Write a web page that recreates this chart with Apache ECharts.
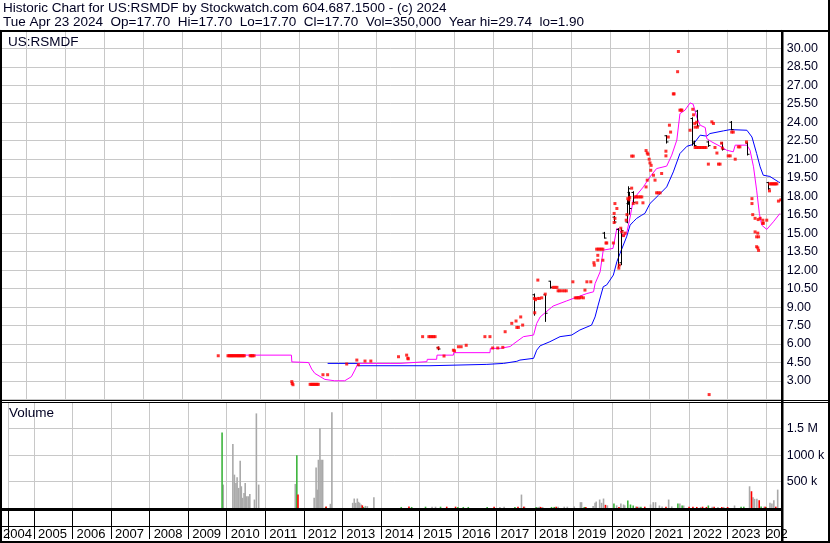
<!DOCTYPE html>
<html><head><meta charset="utf-8">
<script src="https://cdn.jsdelivr.net/npm/echarts@6/dist/echarts.min.js"></script>
<style>html,body{margin:0;padding:0;background:#fff}#c{width:830px;height:543px}</style>
</head><body><div id="c"></div>
<script>
// ---------- DATA ----------
const titleLine1 = 'Historic Chart for US:RSMDF by Stockwatch.com 604.687.1500 - (c) 2024';
const titleLine2 = 'Tue Apr 23 2024  Op=17.70  Hi=17.70  Lo=17.70  Cl=17.70  Vol=350,000  Year hi=29.74  lo=1.90';
const symbolLabel = 'US:RSMDF';
const volumeLabel = 'Volume';
const yearLabels = ['2004','2005','2006','2007','2008','2009','2010','2011','2012','2013','2014','2015','2016','2017','2018','2019','2020','2021','2022','2023','2024'];
const priceTickLabels = ['3.00','4.50','6.00','7.50','9.00','10.50','12.00','13.50','15.00','16.50','18.00','19.50','21.00','22.50','24.00','25.50','27.00','28.50','30.00'];
const volTickValues = [500000, 1000000, 1500000];
const volTickText = ['500 k', '1000 k', '1.5 M'];

// daily closes (decimal year, price)
const closeDots = [
[2009.93,5.05],[2010.18,5.05],[2010.21,5.05],[2010.24,5.05],[2010.27,5.05],[2010.30,5.05],[2010.33,5.05],[2010.36,5.05],[2010.39,5.05],[2010.42,5.05],[2010.45,5.05],[2010.48,5.05],[2010.51,5.05],[2010.54,5.05],[2010.57,5.05],[2010.60,5.05],
[2010.75,5.05],[2010.78,5.05],[2010.81,5.05],[2010.85,5.05],
[2011.82,2.95],[2011.83,2.80],[2011.85,2.70],
[2012.29,2.73],[2012.32,2.73],[2012.35,2.73],[2012.38,2.73],[2012.41,2.73],[2012.44,2.73],[2012.47,2.73],[2012.50,2.73],
[2012.62,3.51],[2012.74,3.51],
[2013.23,4.38],[2013.49,4.70],[2013.53,4.32],[2013.70,4.62],[2013.85,4.62],
[2014.56,4.97],[2014.77,5.10],[2014.80,4.85],[2014.81,4.80],
[2015.18,6.60],[2015.34,6.60],[2015.38,6.60],[2015.42,6.60],[2015.46,6.60],[2015.50,6.60],
[2015.58,5.68],[2015.73,5.03],[2015.97,5.50],[2016.00,5.45],
[2016.10,5.78],[2016.17,5.78],[2016.30,5.90],
[2016.78,6.60],[2016.91,6.60],
[2016.98,5.68],[2017.11,5.68],[2017.24,5.73],
[2017.30,7.00],[2017.47,7.68],[2017.58,7.87],[2017.70,8.20],[2017.75,7.54],[2017.64,7.35],[2017.60,7.35],
[2018.05,9.70],[2018.08,9.60],[2018.14,9.70],[2018.18,9.70],[2018.24,9.75],[2018.06,8.54],
[2018.14,11.19],[2018.33,10.05],
[2018.53,10.60],[2018.58,10.60],[2018.63,10.60],
[2018.66,10.32],[2018.70,10.32],[2018.76,10.32],[2018.82,10.32],[2018.87,10.32],
[2019.04,11.05],
[2019.10,9.75],[2019.14,9.75],[2019.18,9.75],[2019.22,9.75],[2019.26,9.80],[2019.31,9.75],
[2019.35,10.38],[2019.40,11.05],[2019.50,11.05],
[2019.58,12.60],[2019.59,12.40],
[2019.65,13.70],[2019.69,13.70],[2019.73,13.70],[2019.77,13.70],[2019.81,13.70],
[2019.68,13.20],[2019.68,12.80],[2019.81,12.80],
[2019.89,14.20],[2019.91,14.20],
[2020.08,14.20],[2020.10,15.86],[2020.12,16.20],[2020.10,16.60],[2020.17,17.00],[2020.12,17.40],
[2020.23,12.40],[2020.22,12.16],
[2020.27,15.40],[2020.30,15.10],[2020.34,14.80],[2020.38,15.00],
[2020.41,16.05],[2020.43,16.50],[2020.45,17.80],
[2020.48,17.70],[2020.50,17.90],[2020.55,18.65],[2020.59,17.40],
[2020.64,17.94],[2020.68,17.94],[2020.72,17.94],[2020.77,17.94],[2020.81,17.94],
[2020.68,17.46],[2020.84,17.46],
[2020.55,21.25],[2020.59,21.25],
[2020.92,21.70],[2020.95,21.50],[2020.97,21.40],[2021.00,21.00],[2021.02,20.70],[2021.05,20.50],[2021.04,20.10],
[2020.92,18.75],[2020.95,19.30],
[2021.11,19.70],[2021.15,19.30],
[2021.19,18.27],[2021.23,18.27],[2021.28,18.27],
[2021.32,19.84],
[2021.43,21.65],[2021.43,21.27],[2021.49,22.80],
[2021.52,23.76],[2021.55,23.20],
[2021.62,26.30],[2021.64,26.30],
[2021.73,28.10],[2021.75,29.74],
[2021.79,24.98],[2021.82,24.98],[2021.84,24.98],
[2022.05,23.35],
[2022.12,25.05],[2022.14,24.60],[2022.17,23.90],[2022.18,23.60],
[2022.22,24.00],[2022.24,23.60],
[2022.18,21.95],[2022.22,21.95],[2022.26,21.95],[2022.30,21.95],[2022.34,21.95],[2022.38,21.95],[2022.42,21.95],[2022.46,21.95],
[2022.52,20.60],[2022.54,1.90],
[2022.61,24.03],[2022.65,23.90],
[2022.69,21.95],[2022.74,21.50],
[2022.78,20.60],[2022.82,20.60],
[2022.86,22.30],[2022.88,21.90],
[2023.03,21.27],[2023.08,21.27],[2023.21,21.00],
[2023.12,23.20],[2023.16,23.20],
[2023.29,22.00],[2023.33,22.00],[2023.50,22.40],
[2023.64,17.80],[2023.64,17.40],[2023.66,16.50],
[2023.72,16.20],[2023.80,16.10],[2023.85,16.20],[2023.92,16.05],[2024.02,16.05],
[2023.72,15.10],[2023.79,15.00],[2023.76,14.70],[2023.81,14.70],
[2023.76,13.90],[2023.79,13.80],[2023.81,13.60],
[2023.92,15.80],[2023.93,15.80],
[2024.09,18.43],
[2024.10,19.00],[2024.13,19.00],[2024.16,19.00],[2024.19,19.00],[2024.22,19.00],[2024.25,19.00],[2024.28,19.00],
[2024.32,17.60],[2024.38,17.70]
];

// ranged days (decimal year, open, high, low, close)
const ohlcBars = [
[2015.58,5.70,5.80,5.50,5.60],
[2018.05,10.00,10.10,8.30,9.70],
[2018.33,10.00,10.00,7.80,8.50],
[2018.44,11.10,11.13,10.50,10.60],
[2019.85,15.00,15.10,14.56,14.60],
[2020.10,16.30,16.40,15.80,15.90],
[2020.21,15.30,15.40,12.20,12.40],
[2020.27,12.60,15.40,12.40,15.20],
[2020.44,15.90,17.70,15.80,17.60],
[2020.46,17.40,18.80,17.30,18.60],
[2020.49,18.30,18.35,16.50,17.00],
[2020.59,18.30,18.40,17.40,17.50],
[2021.43,22.90,22.95,22.27,22.40],
[2022.09,24.30,24.40,22.10,22.30],
[2022.15,22.40,22.50,22.00,22.10],
[2022.24,24.90,25.00,23.60,23.70],
[2022.52,22.40,22.50,22.00,22.10],
[2022.86,22.30,22.40,21.70,21.80],
[2023.10,24.00,24.10,23.35,23.40],
[2023.51,22.30,22.40,21.30,21.40],
[2024.06,19.10,19.16,18.49,18.60]
];

// short moving average (magenta)
const maShort = [
[2010.18,5.10],[2011.81,5.10],[2011.82,4.55],[2012.25,4.50],[2012.33,3.97],[2012.41,3.62],[2012.67,3.13],[2012.92,3.02],[2013.18,3.02],[2013.35,3.35],[2013.44,3.89],[2013.52,4.43],
[2014.60,4.43],[2014.61,4.57],[2015.29,4.57],[2015.30,4.76],[2015.54,4.76],[2015.55,5.10],[2015.97,5.10],[2015.98,5.30],[2016.91,5.30],[2016.92,5.65],[2017.17,5.65],[2017.43,5.80],[2017.51,6.00],[2017.77,6.60],[2018.03,6.73],
[2018.11,7.67],[2018.20,8.20],[2018.53,9.08],[2018.88,9.50],[2019.05,9.70],[2019.40,10.10],[2019.57,10.24],[2019.61,10.90],[2019.74,11.86],[2019.82,13.62],[2020.07,13.76],
[2020.17,15.38],[2020.25,15.20],[2020.34,14.70],[2020.42,14.97],[2020.51,16.30],[2020.59,17.68],[2020.64,17.94],[2020.85,18.75],[2021.02,19.56],[2021.19,20.24],[2021.45,20.44],
[2021.58,21.33],[2021.71,22.55],[2021.79,24.70],[2021.92,24.98],[2022.05,25.57],[2022.13,25.46],[2022.22,24.43],[2022.31,23.76],[2022.44,23.57],[2022.48,22.67],[2022.61,22.40],
[2022.82,22.05],[2022.99,21.73],[2023.16,21.60],[2023.21,22.14],[2023.51,22.14],[2023.59,21.73],[2023.68,20.38],[2023.76,18.49],[2023.83,16.60],[2023.89,15.65],[2024.02,15.30],[2024.19,15.92],[2024.36,16.60]
];

// long moving average (blue)
const maLong = [
[2012.74,4.43],[2013.51,4.43],[2013.52,4.24],[2015.37,4.24],[2015.38,4.35],[2016.83,4.35],[2016.84,4.43],[2017.26,4.43],[2017.27,4.52],[2017.60,4.60],[2017.68,4.70],[2018.03,4.84],
[2018.11,5.50],[2018.20,5.86],[2018.45,6.19],[2018.71,6.60],[2019.01,6.73],[2019.22,7.14],[2019.52,7.54],[2019.61,8.20],[2019.69,9.16],[2019.82,10.65],[2019.91,10.80],[2020.08,11.60],
[2020.17,12.68],[2020.25,13.35],[2020.42,14.70],[2020.51,15.65],[2020.59,15.92],[2020.68,16.20],[2020.81,16.46],[2020.89,16.60],[2021.02,17.40],[2021.24,18.08],[2021.45,18.75],
[2021.62,19.97],[2021.79,21.46],[2021.97,22.05],[2022.13,22.20],[2022.31,22.95],[2022.48,22.87],[2022.56,23.08],[2022.91,23.30],[2023.08,23.40],[2023.51,23.35],[2023.64,22.80],
[2023.76,21.46],[2023.85,20.38],[2023.93,19.70],[2024.10,19.60],[2024.32,19.16],[2024.36,19.10]
];

// volume (decimal year, shares)
const volGray = [
[2009.91,443000],[2010.16,1210000],[2010.20,631000],[2010.24,474000],[2010.27,580000],[2010.31,380000],[2010.35,894000],[2010.38,411000],[2010.41,192000],[2010.45,286000],[2010.48,474000],[2010.52,222000],[2010.56,222000],[2010.60,267000],
[2010.72,160000],[2010.77,1790000],[2010.83,443000],[2011.78,455000],
[2012.27,192000],[2012.32,768000],[2012.35,348000],[2012.38,913000],[2012.42,1510000],[2012.45,913000],[2012.49,913000],[2012.69,79000],[2012.73,1810000],
[2013.27,98000],[2013.31,179000],[2013.35,98000],[2013.39,179000],[2013.42,117000],[2013.45,98000],[2013.49,66000],[2013.60,40000],[2013.65,35000],[2013.82,203000],
[2015.33,25000],[2015.42,25000],[2017.09,20000],[2017.20,25000],[2017.65,254000],[2017.73,25000],[2018.08,20000],[2018.12,25000],[2018.20,20000],[2018.60,25000],[2018.76,25000],[2018.84,25000],
[2019.02,30000],[2019.18,110000],[2019.21,110000],[2019.51,40000],[2019.56,98000],[2019.59,122000],[2019.68,160000],[2019.73,98000],[2019.78,179000],[2019.88,50000],
[2020.12,50000],[2020.23,85000],[2020.30,66000],[2020.33,50000],[2020.62,30000],[2020.70,25000],[2021.00,66000],[2021.07,110000],[2021.13,110000],[2021.23,47000],[2021.30,30000],
[2021.47,160000],[2021.55,30000],[2021.76,85000],[2021.86,47000],[2022.30,20000],[2022.60,25000],[2022.75,20000],[2022.90,20000],[2023.18,47000],
[2023.57,411000],[2023.66,203000],[2023.70,173000],[2023.76,173000],[2023.95,25000],[2024.10,98000],[2024.15,85000],[2024.20,147000],[2024.30,348000]
];
const volGreen = [
[2009.88,1430000],[2011.82,1000000],[2012.57,20000],[2013.55,20000],[2014.53,20000],[2014.80,20000],[2015.16,25000],[2015.55,25000],[2016.00,20000],[2016.14,20000],[2016.27,20000],
[2016.76,20000],[2017.48,20000],[2018.03,20000],[2018.43,20000],[2018.50,20000],[2019.28,20000],[2020.05,85000],[2020.41,141000],[2020.48,66000],[2020.55,47000],[2020.75,25000],
[2021.71,85000],[2021.82,47000],[2022.50,47000],[2023.35,25000],[2023.42,25000],[2023.87,30000],[2024.00,20000]
];
const volRed = [
[2011.85,254000],[2012.58,30000],[2013.52,50000],[2014.73,30000],[2015.71,25000],[2015.94,25000],[2016.94,25000],[2017.56,25000],[2017.71,25000],[2018.15,20000],[2018.55,25000],
[2019.32,20000],[2019.83,60000],[2020.18,20000],[2020.65,25000],[2020.85,25000],[2021.40,25000],[2022.00,25000],[2022.10,25000],[2022.20,20000],[2022.35,25000],[2022.45,20000],
[2022.65,25000],[2022.85,20000],[2023.00,20000],[2023.62,317000],[2023.82,147000],[2023.98,25000],[2024.25,25000]
];

// ---------- CHART ----------
const FONT = '"Liberation Sans", Arial, sans-serif';
const TXT = '#000022';
const GRID_COLOR = '#c8c8c8';
const X_MIN = 2004.324, X_MAX = 2024.404;
const chart = echarts.init(document.getElementById('c'), null, {renderer: 'canvas'});

function volRender(color) {
  return function (params, api) {
    const x = api.value(0), v = api.value(1);
    const b = api.coord([x, 0]), t = api.coord([x, v]);
    return {type: 'rect', shape: {x: b[0] - 0.8, y: t[1], width: 1.6, height: b[1] - t[1]}, style: {fill: color}};
  };
}
function volSeries(data, color) {
  return {type: 'custom', xAxisIndex: 1, yAxisIndex: 1, data: data, renderItem: volRender(color), encode: {x: 0, y: 1}, z: 3};
}
function yearFormatter(v) {
  const yr = String(Math.floor(v + 1e-6));
  const i = yearLabels.indexOf(yr);
  if (i < 0) return '';
  if (i === 0) return '{f|' + yr + '}';
  if (Math.abs(v - Math.round(v)) > 1e-6) return '';
  if (i === yearLabels.length - 1) return '{l|' + yr + '}';
  return '{n|' + yr + '}';
}

const rect = (x, y, w, h, c) => ({type: 'rect', shape: {x: x, y: y, width: w, height: h}, style: {fill: c || '#000'}, z: 100, silent: true});

const xCommon = {type: 'value', min: X_MIN, max: X_MAX, splitNumber: 20, minInterval: 1, maxInterval: 1};
const labelRich = (pad) => ({fontSize: 13, fontFamily: FONT, color: '#000', padding: [0, 0, 0, pad]});

const option = {
  animation: false,
  backgroundColor: '#fff',
  grid: [
    {left: 0, right: 48.3, top: 29.8, bottom: 143.5, show: false},
    {left: 0, right: 48.3, top: 402.3, bottom: 35, show: false}
  ],
  xAxis: [
    Object.assign({gridIndex: 0}, xCommon, {
     axisLine: {show: false}, axisTick: {show: false}, axisLabel: {show: false},
     splitLine: {show: true, lineStyle: {color: GRID_COLOR, width: 1}}}),
    Object.assign({gridIndex: 1}, xCommon, {offset: 2.5,
     axisLine: {show: false},
     axisTick: {show: true, length: 31, lineStyle: {color: '#000', width: 1}},
     axisLabel: {show: true, margin: 17, align: 'left', fontSize: 13, fontFamily: FONT, color: '#000',
       padding: [0, 0, 0, -5],
       showMinLabel: true, showMaxLabel: true, formatter: yearFormatter,
       rich: {f: labelRich(0), n: labelRich(9), l: labelRich(5)}},
     splitLine: {show: true, lineStyle: {color: GRID_COLOR, width: 1}}})
  ],
  yAxis: [
    {gridIndex: 0, type: 'value', position: 'right', min: 1.5, max: 31.5, interval: 1.5,
     axisLine: {show: false}, axisTick: {show: false},
     axisLabel: {margin: 5, fontSize: 12.5, fontFamily: FONT, color: TXT,
       formatter: function (v) { const s = v.toFixed(2); return priceTickLabels.indexOf(s) >= 0 ? s : ''; }},
     splitLine: {show: true, lineStyle: {color: GRID_COLOR, width: 1}}},
    {gridIndex: 1, type: 'value', position: 'right', min: 0, max: 2000000, interval: 500000,
     axisLine: {show: false}, axisTick: {show: false},
     axisLabel: {margin: 5, fontSize: 12.5, fontFamily: FONT, color: TXT,
       formatter: function (v) { const i = volTickValues.indexOf(v); return i >= 0 ? volTickText[i] : ''; }},
     splitLine: {show: true, lineStyle: {color: GRID_COLOR, width: 1}}}
  ],
  series: [
    {type: 'line', xAxisIndex: 0, yAxisIndex: 0, data: maLong, symbol: 'none', lineStyle: {color: '#0000ff', width: 1}, z: 3},
    {type: 'line', xAxisIndex: 0, yAxisIndex: 0, data: maShort, symbol: 'none', lineStyle: {color: '#ff00ff', width: 1}, z: 4},
    {type: 'custom', xAxisIndex: 0, yAxisIndex: 0, data: ohlcBars, encode: {x: 0, y: [1, 2, 3, 4]}, z: 5,
     renderItem: function (params, api) {
       const x = api.value(0);
       const o = api.coord([x, api.value(1)]), h = api.coord([x, api.value(2)]), l = api.coord([x, api.value(3)]), c = api.coord([x, api.value(4)]);
       const px = Math.round(h[0]) + 0.5;
       const st = {stroke: '#000', lineWidth: 1};
       return {type: 'group', children: [
         {type: 'line', shape: {x1: px, y1: h[1], x2: px, y2: l[1]}, style: st},
         {type: 'line', shape: {x1: px - 2, y1: o[1], x2: px, y2: o[1]}, style: st},
         {type: 'line', shape: {x1: px, y1: c[1], x2: px + 2, y2: c[1]}, style: st}
       ]};
     }},
    {type: 'scatter', xAxisIndex: 0, yAxisIndex: 0, data: closeDots, symbol: 'rect', symbolSize: 3, itemStyle: {color: '#ff0000'}, z: 6},
    volSeries(volGray, '#a9a9a9'),
    volSeries(volGreen, '#3cb43c'),
    volSeries(volRed, '#ff0000')
  ],
  graphic: {elements: [
    {type: 'text', left: 3, top: 1, z: 100, style: {text: titleLine1, font: '13.5px ' + FONT, fill: TXT}},
    {type: 'text', left: 3, top: 15, z: 100, style: {text: titleLine2, font: '13.5px ' + FONT, fill: TXT}},
    {type: 'text', left: 8, top: 35, z: 100, style: {text: symbolLabel, font: '13.5px ' + FONT, fill: TXT}},
    {type: 'text', left: 9, top: 406, z: 100, style: {text: volumeLabel, font: '13.5px ' + FONT, fill: TXT}},
    rect(788, 511, 40, 30, '#fff'),
    rect(0, 30, 830, 2),
    rect(0, 30, 2, 513),
    rect(828, 0, 2, 543),
    rect(781, 30, 2.5, 513),
    rect(0, 400, 830, 1),
    rect(0, 402, 830, 1),
    rect(0, 508, 782, 3),
    rect(0, 526, 782, 1),
    rect(0, 541, 830, 2)
  ]}
};
chart.setOption(option);
</script>
</body></html>
